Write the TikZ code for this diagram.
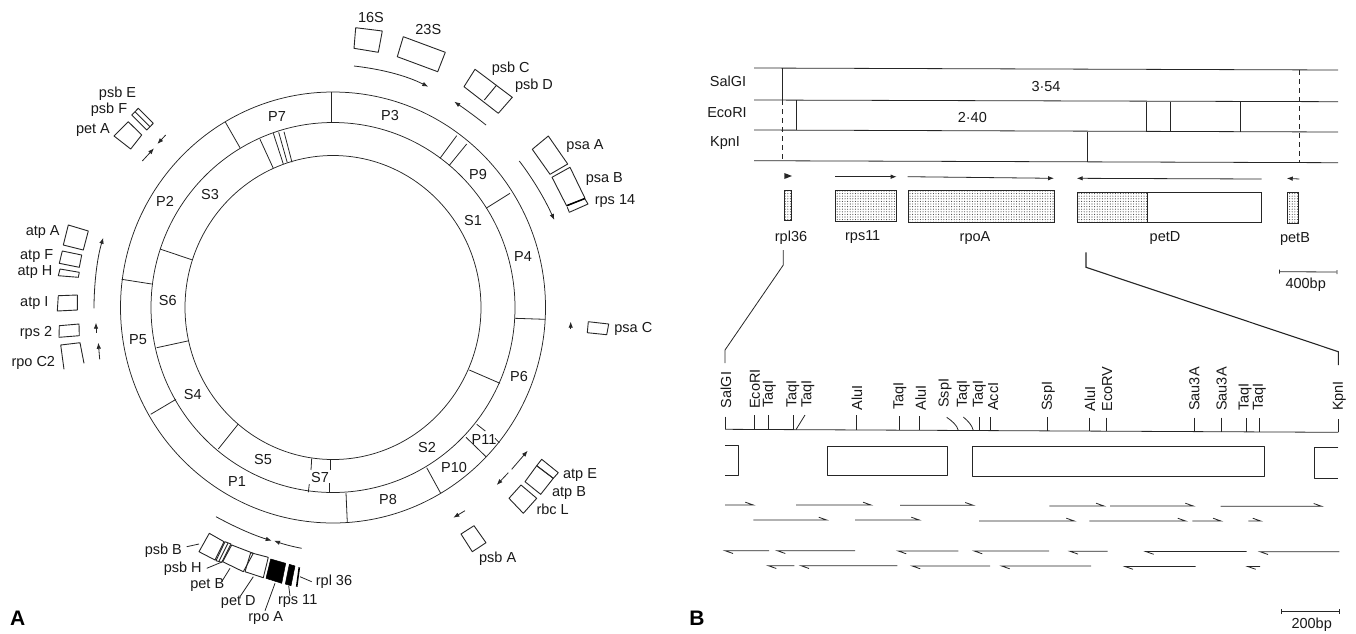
\documentclass[tikz,border=0pt]{standalone}
\usepackage{fontspec}
\setmainfont{Liberation Sans}
\usetikzlibrary{arrows.meta,patterns.meta}
\tikzset{
  ln/.style={line width=0.8pt,black!85},
  ring/.style={line width=0.75pt,black!85},
  gene/.style={line width=0.9pt,black!85,line join=round},
  arr/.style={line width=0.8pt,black!85,-{Latex[length=6pt,width=4.5pt]}},
  lab/.style={font=\fontsize{14.5}{14.5}\selectfont,inner sep=0pt,text=black!90},
  rlab/.style={font=\fontsize{14.5}{14.5}\selectfont,inner sep=0pt,text=black!90,rotate=90,anchor=west},
  pan/.style={font=\fontsize{21}{21}\selectfont\bfseries,inner sep=0pt},
  stip/.style={line width=0.8pt,black!85,pattern={Dots[distance=2.6pt,radius=0.55pt]},pattern color=black!75},
  blk/.style={fill=black,draw=black,line width=0.5pt},
}
\newcommand\seqR[3]{\draw[ln] (#1,#3) -- (#2,#3) -- ++(-8,-2.8);}
\newcommand\seqL[3]{\draw[ln] (#2,#3) -- (#1,#3) -- ++(8,2.8);}
\begin{document}
\begin{tikzpicture}[x=1pt,y=-1pt]
\useasboundingbox (0,0) rectangle (1356,633);
% ---------- Panel A: rings
\coordinate (c) at (333,307.5);
\draw[ring] (c) ellipse [x radius=212.5,y radius=215.5];
\draw[ring] (c) ellipse [x radius=182,y radius=185];
\draw[ring] (c) ellipse [x radius=148,y radius=152];
% dividers
\draw[ln] (331,92)--(331,122.7);
\draw[ln] (225.3,122)--(240,147.7);
\draw[ln] (121.7,279.3)--(151.7,284);
\draw[ln] (260,139.3)--(273.3,168.3);
\draw[ln] (273.3,133.3)--(283.3,164);
\draw[ln] (278.7,132.3)--(287.3,162.7);
\draw[ln] (284,131.7)--(292,162.3);
\draw[ln] (160,249)--(191.7,259.7);
\draw[ln] (456.7,135.7)--(440,158.3);
\draw[ln] (466.7,144)--(449,165.7);
\draw[ln] (510,193.3)--(486,208.3);
\draw[ln] (515,318.3)--(545,319.3);
\draw[ln] (156.7,347.7)--(189,340.7);
\draw[ln] (150.7,414.3)--(176,399.3);
\draw[ln] (218.3,449)--(238.3,424);
\draw[ln] (311.7,458.5)--(311,470);
\draw[ln] (308.3,492.3)--(309.3,484);
\draw[ln] (330,459.5)--(330,470);
\draw[ln] (329,483)--(329,492.8);
\draw[ln] (346,492.8)--(347.3,522.5);
\draw[ln] (469.3,370)--(500,383.3);
\draw[ln] (426.7,467.7)--(440.7,493.3);
\draw[ln] (466,437.3)--(486,456.7);
\draw[ln] (476.7,424.3)--(485.3,431);
\draw[ln] (495,438.3)--(499.3,442.7);
% ring labels
\node[lab] (rP7) at (277,117) {P7};
\node[lab] (rP3) at (390,116) {P3};
\node[lab] (rP9) at (478,175) {P9};
\node[lab] (rS1) at (473,220) {S1};
\node[lab] (rP4) at (523,257) {P4};
\node[lab] (rP2) at (165,201.7) {P2};
\node[lab] (rS3) at (210,195) {S3};
\node[lab] (rS6) at (167.7,300) {S6};
\node[lab] (rP5) at (138,340) {P5};
\node[lab] (rS4) at (192.7,394) {S4};
\node[lab] (rS5) at (263,459) {S5};
\node[lab] (rP1) at (237,481) {P1};
\node[lab] (rS7) at (320,477) {S7};
\node[lab] (rP8) at (388,499) {P8};
\node[lab] (rP10) at (454,467) {P10};
\node[lab] (rP11) at (484,439) {P11};
\node[lab] (rS2) at (427,447) {S2};
\node[lab] (rP6) at (519,376) {P6};
% gene boxes
\draw[gene] (128.3,121.7)--(141.7,135)--(130.7,149)--(114,136)--cycle;
\draw[gene] (138.3,108.3)--(153.3,123.3)--(146.7,130)--(131.7,115)--cycle;
\draw[gene] (135,111.7)--(150,126.7);
\draw[gene] (68.3,225)--(88.3,231)--(83.3,250)--(63.3,245)--cycle;
\draw[gene] (62.3,251)--(81.7,255)--(79.3,267.3)--(59.3,263.3)--cycle;
\draw[gene] (60,269)--(79.3,272.3)--(78.3,277.3)--(58.3,275.7)--cycle;
\draw[gene] (58.3,295.7)--(77.3,295)--(77.3,310)--(57.3,311)--cycle;
\draw[gene] (59.3,325.7)--(79,324)--(79.3,335.7)--(59,337.3)--cycle;
\draw[gene] (64,369.3)--(60.7,345)--(80,342.7)--(84,363.3);
\draw[gene] (355.7,27.7)--(382.3,31)--(378.3,52.3)--(354,48.3)--cycle;
\draw[gene] (403.3,36.7)--(445.3,52.3)--(437.7,71.7)--(397.3,56.7)--cycle;
\draw[gene] (475,69.3)--(512.3,97.3)--(498.3,113.3)--(464,86.7)--cycle;
\draw[gene] (496.7,85)--(484.3,100);
\draw[gene] (548.3,136)--(567.7,164)--(550,174.3)--(532.3,149.3)--cycle;
\draw[gene] (570,167.3)--(585,198.3)--(566.7,206)--(552,177.3)--cycle;
\draw[gene] (585,199)--(588,204)--(569.3,212.3)--(567.3,207.3);
\draw[line width=1.5pt] (567,205.5)--(585,198.5);
\draw[gene] (588.3,321.7)--(608.7,324)--(606.7,334.7)--(587.3,332.7)--cycle;
\draw[gene] (541.7,459.3)--(558.3,472.7)--(553.3,478.3)--(536.7,465.7)--cycle;
\draw[gene] (536.7,465.7)--(553.3,478.3)--(540.7,494.3)--(525,481.7)--cycle;
\draw[gene] (521,485)--(536.7,498.3)--(523.3,513.3)--(509,498.3)--cycle;
\draw[gene] (474,525.7)--(486,542.7)--(472.3,551.7)--(461,534)--cycle;
\draw[gene] (209.3,533.3)--(224,541.7)--(215,560)--(199,551.7)--cycle;
\draw[gene] (225,541.7)--(231,544)--(221.7,562.3)--(216,560.7)--cycle;
\draw[gene] (228,543)--(218.7,561.7);
\draw[gene] (231.7,545)--(253.3,553.3)--(243.3,571.7)--(222.7,561.7)--cycle;
\draw[gene] (250.7,552.7)--(268.3,557.3)--(263.3,577.7)--(245,571.7)--cycle;
\draw[blk] (270.7,559)--(285.7,563.3)--(281.7,583.3)--(266,578.3)--cycle;
\draw[blk] (289.3,564.3)--(295,566)--(291,585.7)--(285.3,584)--cycle;
\draw[line width=1.6pt] (299.3,567.3)--(296.7,586.7);
% leaders
\draw[ln] (186.7,546.7)--(199,544);
\draw[ln] (206.7,568.3)--(222.7,561.7);
\draw[ln] (221.7,581.7)--(230,568.3);
\draw[ln] (240,596.7)--(253.3,576.7);
\draw[ln] (265,610.7)--(275,583.3);
\draw[ln] (290,596)--(288.7,585.7);
\draw[ln] (311.7,581.7)--(300,576.7);
% transcription arrows
\draw[arr] (94,308.3) .. controls (94,285) and (97,258) .. (103.3,237.7);
\draw[arr] (96,332.7)--(96,322.7);
\draw[arr] (99.7,359.3)--(98.3,342.7);
\draw[arr] (142.3,161)--(154,148.3);
\draw[arr] (165.7,135)--(157.3,144);
\draw[arr] (354,66) .. controls (380,69) and (405,75) .. (428.3,86.7);
\draw[arr] (486,125)..controls (476,117) and (465,109)..(454.3,101.7);
\draw[arr] (519.3,161) .. controls (530,175) and (543,195) .. (554.3,220);
\draw[arr] (570.7,329.3)--(570.7,321.7);
\draw[arr] (511.7,469.3)--(527.7,450.7);
\draw[arr] (508.3,472.7)--(496.7,485);
\draw[arr] (465,510.7)--(453.3,517.7);
\draw[arr] (216,516.7) .. controls (235,527) and (253,535) .. (271.7,540.7);
\draw[arr] (301.7,548.3) .. controls (292,546.5) and (283,544) .. (274,540.7);
% gene labels
\node[lab] (gpsbE) at (117.5,93.5) {psb E};
\node[lab] (gpsbF) at (109,110) {psb F};
\node[lab] (gpetA) at (93,130) {pet A};
\node[lab] (gatpA) at (42.7,232) {atp A};
\node[lab] (gatpF) at (36.7,255.7) {atp F};
\node[lab] (gatpH) at (35,272) {atp H};
\node[lab] (gatpI) at (34.3,303) {atp I};
\node[lab] (grps2) at (36,332.7) {rps 2};
\node[lab] (grpoC) at (33.3,362.7) {rpo C2};
\node[lab] (g16S) at (371,18) {16S};
\node[lab] (g23S) at (428.3,30) {23S};
\node[lab] (gpsbC) at (510.7,68.3) {psb C};
\node[lab] (gpsbD) at (534,86) {psb D};
\node[lab] (gpsaA) at (585,146) {psa A};
\node[lab] (gpsaB) at (604.3,179) {psa B};
\node[lab] (grps14) at (615,201) {rps 14};
\node[lab] (gpsaC) at (633.3,329.3) {psa C};
\node[lab] (gatpE) at (580,475) {atp E};
\node[lab] (gatpB) at (569,492.7) {atp B};
\node[lab] (grbcL) at (552.7,509.3) {rbc L};
\node[lab] (gpsbA) at (497.7,558.3) {psb A};
\node[lab] (gpsbB) at (163.3,550.7) {psb B};
\node[lab] (gpsbH) at (182.7,568.3) {psb H};
\node[lab] (gpetB) at (207.3,585) {pet B};
\node[lab] (gpetD) at (238.3,601.7) {pet D};
\node[lab] (grpoA) at (265.7,617.7) {rpo A};
\node[lab] (grps11) at (297.7,601) {rps 11};
\node[lab] (grpl36) at (334,581.7) {rpl 36};
\node[pan] (panA) at (17.7,618) {A};
\node[pan] (panB) at (697,618) {B};
% ---------- Panel B: top map
\draw[ln] (754,68)--(1338,70);
\draw[ln] (754,100)--(1338,101.7);
\draw[ln] (754,130)--(1338,132);
\draw[ln] (754,160.7)--(1338,162.7);
\draw[ln] (782.7,68)--(782.7,99.7);
\draw[ln,dash pattern=on 5pt off 4pt] (782.7,100)--(782.7,161);
\draw[ln] (796.7,100)--(796.7,130);
\draw[ln] (1146.7,101.5)--(1146.7,132);
\draw[ln] (1170.7,101.5)--(1170.7,132);
\draw[ln] (1240.7,101.5)--(1240.7,132);
\draw[ln] (1087,132)--(1087,162);
\draw[ln,dash pattern=on 5pt off 4pt] (1299.3,70)--(1299.3,162);
\node[lab] (mSal) at (728,81) {SalGI};
\node[lab] (mEco) at (727,113) {EcoRI};
\node[lab] (mKpn) at (725,143) {KpnI};
\node[lab] (m354) at (1046,86.7) {3·54};
\node[lab] (m240) at (972.3,117.7) {2·40};
\fill[black!85] (784.3,173) -- (792,176) -- (784.3,179) -- cycle;
\draw[arr] (835,176.7)--(896.7,176.7);
\draw[arr] (907.7,176.7)--(1054,178.3);
\draw[arr] (1261.7,179)--(1076.7,178.3);
\draw[arr] (1299.3,179)--(1286.7,178.3);
\draw[stip] (784.3,190) rectangle (791.7,220);
\draw[stip] (835,190) rectangle (896.7,221);
\draw[stip] (908,190.5) rectangle (1054,222);
\draw[ln] (1077.7,192) rectangle (1261.7,222.7);
\draw[stip] (1077.7,192) rectangle (1147.7,222.7);
\draw[stip] (1287.3,192) rectangle (1298.3,223);
\node[lab] (crpl) at (791,237.3) {rpl36};
\node[lab] (crps) at (862.7,237) {rps11};
\node[lab] (crpo) at (975,238) {rpoA};
\node[lab] (cpet) at (1165,238) {petD};
\node[lab] (cpetb) at (1295,239) {petB};
\draw[ln] (783.3,250)--(783.3,265)--(725,350)--(725,363);
\draw[ln,line width=1.1pt] (1086,252.3)--(1086,267.3)--(1338.3,351.7)--(1338.3,365);
\draw[ln,{Bar[width=4pt]}-{Bar[width=4pt]}] (1279,271.7)--(1337.3,272);
\node[lab] (s400) at (1305.7,284.3) {400bp};
\draw[ln,{Bar[width=5pt]}-{Bar[width=5pt]}] (1280.7,611.7)--(1340,611.7);
\node[lab] (s200) at (1311.7,624.3) {200bp};
% ---------- restriction map
\draw[ln] (725,429.3)--(1338.3,432.3);
\draw[ln] (725,416.7)--(725,429.3);
\foreach \x/\t in {754/415,768/415,793.3/415,856.7/415,899.3/416,919.3/416,979.3/417,990/417,1047.3/417,1089.3/417.5,1106.7/417.5,1194/417.5,1221.3/417.5,1246/418,1259.3/418,1338.3/419.3}
  {\draw[ln] (\x,\t)--(\x,{429.3+(\x-725)*3/613.3});}
\draw[ln] (796,429.6)--(805,415);
\draw[ln] (958.3,430.4) .. controls (957,425) and (952,421) .. (946.7,417.3);
\draw[ln] (973.3,430.5) .. controls (972,425) and (968,421) .. (963.3,417);
\node[rlab] (s1) at (726,408.3) {SalGI};
\node[rlab] (s2) at (755,409) {EcoRI};
\node[rlab] (s3) at (769.3,408) {TaqI};
\node[rlab] (s4) at (793,408) {TaqI};
\node[rlab] (s5) at (808,408) {TaqI};
\node[rlab] (s6) at (857,410.7) {AluI};
\node[rlab] (s7) at (900,410) {TaqI};
\node[rlab] (s8) at (920.7,410.7) {AluI};
\node[rlab] (s9) at (945,408) {SspI};
\node[rlab] (s10) at (963.3,408) {TaqI};
\node[rlab] (s11) at (979.3,408) {TaqI};
\node[rlab] (s12) at (993.3,411) {AccI};
\node[rlab] (s13) at (1048.3,411) {SspI};
\node[rlab] (s14) at (1090,411.7) {AluI};
\node[rlab] (s15) at (1107.3,411.7) {EcoRV};
\node[rlab] (s16) at (1194.3,411) {Sau3A};
\node[rlab] (s17) at (1221.7,411) {Sau3A};
\node[rlab] (s18) at (1245,411) {TaqI};
\node[rlab] (s19) at (1259.3,411) {TaqI};
\node[rlab] (s20) at (1339.3,411) {KpnI};
% exon boxes
\draw[gene] (725,445.7)--(738.3,445.7)--(738.3,475)--(725,475);
\draw[gene] (827.7,446) rectangle (947.3,475.3);
\draw[gene] (972.3,446.5) rectangle (1264.3,476.7);
\draw[gene] (1338.3,447.7)--(1314.3,447.7)--(1314.3,478)--(1338.3,478);
% sequencing strategy
\seqR{725}{753.3}{505}
\seqR{796}{871}{505}
\seqR{900}{973.3}{505.3}
\seqR{1049.3}{1104}{506}
\seqR{1110}{1193.3}{506}
\seqR{1220.7}{1321.7}{506.3}
\seqR{753.3}{826.7}{520}
\seqR{855}{919.3}{520}
\seqR{979}{1074.3}{521}
\seqR{1089.3}{1185.7}{521}
\seqR{1192.3}{1221}{521}
\seqR{1248.3}{1260.7}{521}
\seqL{725}{769}{550.7}
\seqL{777.3}{855}{550.7}
\seqL{898.3}{958.3}{551}
\seqL{974.3}{1049}{551}
\seqL{1070}{1107.7}{551.3}
\seqL{1145.7}{1246.7}{551.5}
\seqL{1260}{1339.3}{551.7}
\seqL{768.3}{794.3}{565.7}
\seqL{801}{897.3}{565.7}
\seqL{912.3}{990}{566}
\seqL{1001.7}{1091}{566}
\seqL{1125}{1195.7}{566.5}
\seqL{1247.7}{1260}{566.5}
\end{tikzpicture}
\end{document}
